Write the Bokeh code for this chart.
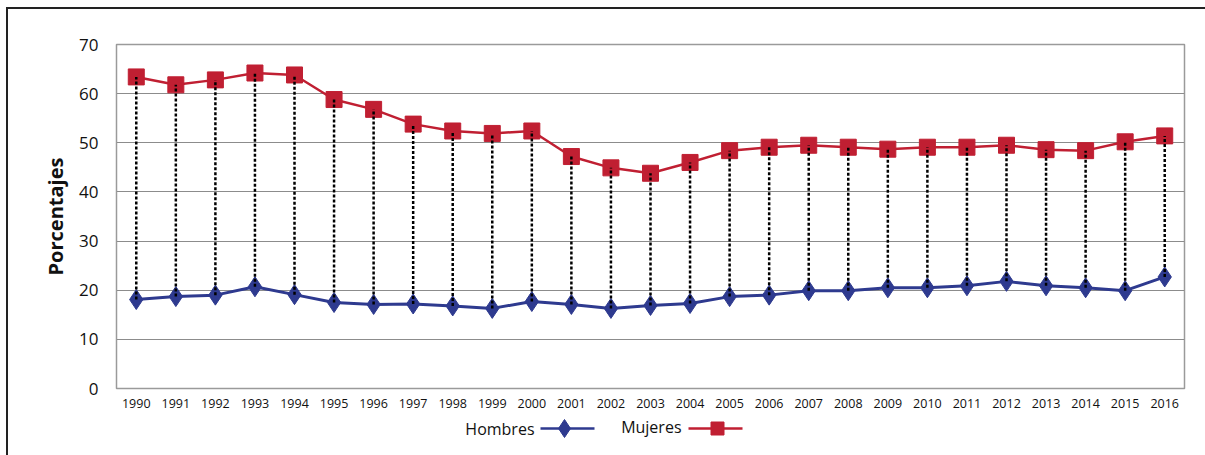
from bokeh.plotting import figure
from bokeh.layouts import column
from bokeh.models import FactorRange, ColumnDataSource
from bokeh.core.properties import value
from bokeh.embed import file_html
from bokeh.resources import INLINE

years = [str(y) for y in range(1990, 2017)]
hombres = [18.1, 18.7, 19.0, 20.7, 19.1, 17.5, 17.1, 17.2, 16.8, 16.3, 17.7, 17.1,
           16.3, 16.9, 17.3, 18.7, 19.0, 19.9, 19.9, 20.5, 20.5, 20.9, 21.8, 20.9,
           20.5, 19.9, 22.7]
mujeres = [63.4, 61.8, 62.8, 64.2, 63.8, 58.8, 56.8, 53.8, 52.4, 51.9, 52.4, 47.2,
           44.9, 43.8, 46.0, 48.4, 49.1, 49.5, 49.1, 48.7, 49.1, 49.1, 49.5, 48.6,
           48.4, 50.2, 51.4]
y_ticks = [0, 10, 20, 30, 40, 50, 60, 70]
y_label = "Porcentajes"
series_names = ["Hombres", "Mujeres"]

RED = "#C01F32"
BLUE = "#2E3A8F"
FONT = "Open Sans"

src = ColumnDataSource(dict(x=years, h=hombres, m=mujeres))

p = figure(width=1197, height=406, x_range=FactorRange(*years), y_range=(0, 70),
           output_backend="svg", toolbar_location=None,
           min_border_left=108, min_border_right=21, min_border_top=35, min_border_bottom=27)
p.background_fill_color = "white"
p.outline_line_color = "#9a9a9a"
p.outline_line_width = 1.5
p.xgrid.grid_line_color = None
p.ygrid.grid_line_color = "#8c8c8c"
p.ygrid.grid_line_width = 1.2

p.yaxis.ticker = y_ticks
p.yaxis.axis_line_color = "#9a9a9a"
p.yaxis.major_tick_line_color = None
p.yaxis.minor_tick_line_color = None
p.yaxis.major_label_standoff = 12
p.yaxis.major_label_text_font = FONT
p.yaxis.major_label_text_font_size = "17px"
p.yaxis.major_label_text_color = "#111111"
p.yaxis.axis_label = y_label
p.yaxis.axis_label_text_font = FONT
p.yaxis.axis_label_text_font_style = "bold"
p.yaxis.axis_label_text_font_size = "20px"
p.yaxis.axis_label_text_color = "#111111"
p.yaxis.axis_label_standoff = 7

p.xaxis.axis_line_color = "#9a9a9a"
p.xaxis.major_tick_line_color = None
p.xaxis.minor_tick_line_color = None
p.xaxis.major_label_standoff = 4
p.xaxis.major_label_text_font = FONT
p.xaxis.major_label_text_font_size = "12.5px"
p.xaxis.major_label_text_color = "#111111"

p.line("x", "m", source=src, line_color=RED, line_width=2.5)
p.scatter("x", "m", source=src, marker="square", size=16, fill_color=RED, line_color=RED)
p.line("x", "h", source=src, line_color=BLUE, line_width=3)
p.scatter("x", "h", source=src, marker="diamond", size=20, fill_color=BLUE, line_color=BLUE)
p.segment(x0="x", y0="h", x1="x", y1="m", source=src, line_color="black",
          line_width=2.5, line_dash="3 2")

# legend strip below (text to the left of the symbol, as in the original);
# its frame is aligned with the main frame (screen x 116..1184)
leg = figure(width=1197, height=40, x_range=(116, 1184), y_range=(0, 40),
             output_backend="svg", toolbar_location=None,
             min_border=0, outline_line_color=None)
leg.axis.visible = False
leg.grid.visible = False
leg.text(x=[534, 681], y=[27, 29], text=series_names, text_align="right",
         text_baseline="middle", text_font=value(FONT), text_font_size="16px",
         text_color="#111111")
leg.segment(x0=[540, 688], y0=[27, 27], x1=[594, 742], y1=[27, 27],
            line_color=[BLUE, RED], line_width=2.5)
leg.scatter(x=[564], y=[27], marker="diamond", size=18, fill_color=BLUE, line_color=BLUE)
leg.scatter(x=[717], y=[27], marker="square", size=13, fill_color=RED, line_color=RED)

layout = column(p, leg, spacing=0, margin=(7, 0, 0, 6),
                styles={"border-top": "2px solid #222", "border-left": "2px solid #222"})

open("out.html", "w").write(file_html(layout, INLINE))
